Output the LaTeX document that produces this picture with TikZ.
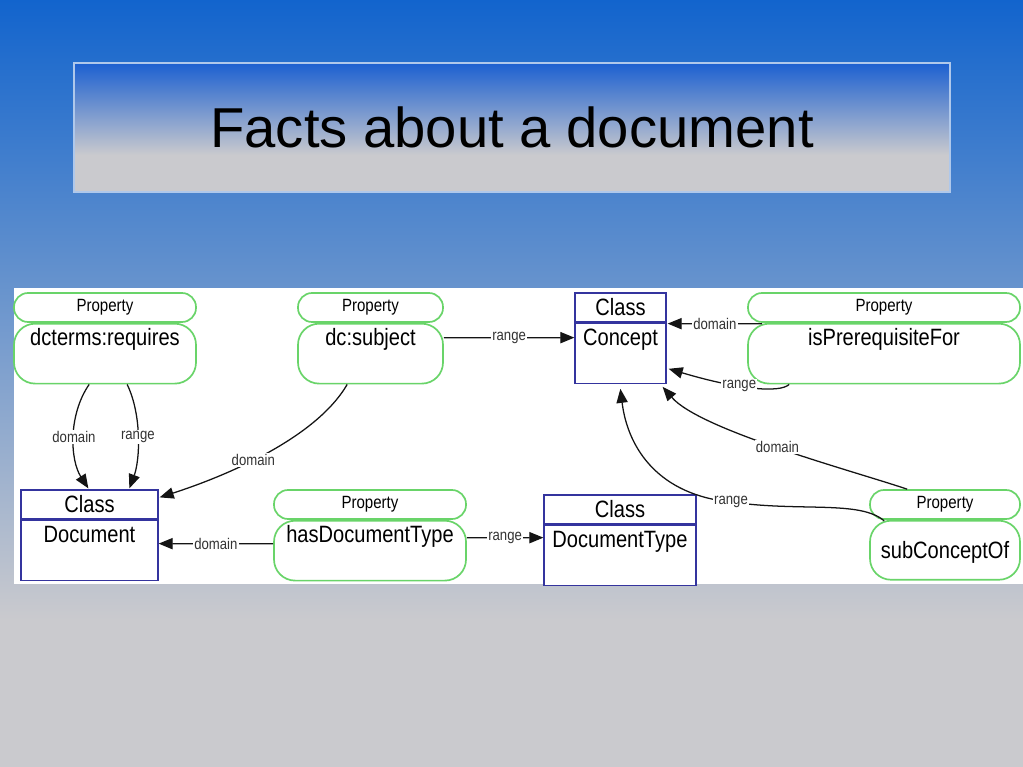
\documentclass[tikz,border=0pt]{standalone}
\usepackage{fontspec}
\setmainfont{Liberation Sans}
\newfontfamily\diafont[FakeStretch=0.85]{Liberation Sans}
\usetikzlibrary{arrows.meta,calc}
\definecolor{slidetop}{RGB}{18, 100, 205}
\definecolor{slidegray}{RGB}{202, 202, 206}
\definecolor{titletop}{RGB}{28, 96, 208}
\definecolor{titleedge}{RGB}{175, 200, 235}
\definecolor{pill}{RGB}{105, 212, 105}
\definecolor{cls}{RGB}{52, 52, 158}
\definecolor{edge}{RGB}{20, 20, 20}
\newcommand\pxu{0.025cm}

\begin{document}
\begin{tikzpicture}[x=0.025cm, y=-0.025cm,
    proptop/.style={draw=pill, line width=1.2pt, fill=white, rounded corners=10pt,
      minimum height=29*\pxu, inner sep=0pt, font=\diafont\fontsize{12.6}{14}\selectfont},
    propbody/.style={draw=pill, line width=1.2pt, fill=white, rounded corners=15pt,
      anchor=north, inner sep=0pt, text height=15.6pt, text depth=27pt,
      font=\diafont\fontsize{16.8}{19}\selectfont},
    classtop/.style={draw=cls, line width=0.9pt, fill=white, minimum height=29*\pxu,
      inner sep=0pt, font=\diafont\fontsize{16.8}{19}\selectfont},
    classbody/.style={draw=cls, line width=0.9pt, fill=white, anchor=north,
      inner sep=0pt, text height=15.6pt, text depth=27pt,
      font=\diafont\fontsize{16.8}{19}\selectfont},
    rel/.style={draw=edge, line width=0.9pt, -{Triangle[length=10pt,width=8pt]}},
    rellabel/.style={fill=white, inner sep=1pt, text=black!80,
      font=\diafont\fontsize{11}{12}\selectfont}]
  \useasboundingbox (0,0) rectangle (1023,767);
  % slide background and title
  \shade[top color=slidetop, bottom color=slidegray] (0,0) rectangle (1023,620);
  \fill[slidegray] (0,620) rectangle (1023,767);
  \shade[top color=titletop, bottom color=slidegray] (74,63) rectangle (950,155);
  \fill[slidegray] (74,155) rectangle (950,192);
  \draw[titleedge, line width=1pt] (74,63) rectangle (950,192);
  \node[anchor=base, font=\fontsize{40}{48}\selectfont] (title) at (512,148) {Facts about a document};
  % diagram panel
  \fill[white] (14,288) rectangle (1023,584);

  % properties
  \node[proptop, minimum width=182*\pxu] (reqhead) at (105,307.5) {Property};
  \node[propbody, minimum width=182*\pxu] (req) at (reqhead.south) {dcterms:requires};
  \node[proptop, minimum width=145*\pxu] (subjhead) at (370.5,307.5) {Property};
  \node[propbody, minimum width=145*\pxu] (subj) at (subjhead.south) {dc:subject};
  \node[proptop, minimum width=272*\pxu] (prereqhead) at (884,307.5) {Property};
  \node[propbody, minimum width=272*\pxu] (prereq) at (prereqhead.south) {isPrerequisiteFor};
  \node[proptop, minimum width=192*\pxu] (hasdthead) at (370,504.5) {Property};
  \node[propbody, minimum width=192*\pxu] (hasdt) at (hasdthead.south) {hasDocumentType};
  \node[proptop, minimum width=150*\pxu] (subchead) at (945,504.5) {Property};
  \node[propbody, minimum width=150*\pxu, text height=27pt, text depth=15pt] (subc) at (subchead.south) {subConceptOf};

  % classes
  \node[classtop, minimum width=91*\pxu] (conhead) at (620.5,307.5) {Class};
  \node[classbody, minimum width=91*\pxu] (con) at (conhead.south) {Concept};
  \node[classtop, minimum width=137*\pxu] (dochead) at (89.5,504.5) {Class};
  \node[classbody, minimum width=137*\pxu] (doc) at (dochead.south) {Document};
  \node[classtop, minimum width=152*\pxu] (dthead) at (620,509.5) {Class};
  \node[classbody, minimum width=152*\pxu] (dt) at (dthead.south) {DocumentType};

  % relations
  \draw[rel] ($(req.south west)+(76,0)$) .. controls (68,415) and (70,460) ..
    ($(dochead.north west)+(68,-1)$) node[rellabel, pos=0.5] {domain};
  \draw[rel] ($(req.south west)+(114,0)$) .. controls (142,415) and (140,460) ..
    ($(dochead.north west)+(109,-1)$) node[rellabel, pos=0.5] {range};
  \draw[rel] ($(subj.south west)+(50,0)$) .. controls (315,440) and (220,478) ..
    ($(dochead.north east)+(1,8)$) node[rellabel, pos=0.55] {domain};
  \draw[rel] ($(subj.north east)+(0,15)$) -- ($(con.north west)+(0,15)$) node[rellabel, midway] {range};
  \draw[rel] ($(prereqhead.south west)+(15,1)$) -- ($(conhead.south east)+(1,1)$) node[rellabel, midway] {domain};
  \draw[rel] ($(prereq.south west)+(42,0)$) .. controls (780,393) and (740,390) ..
    ($(con.south east)+(2,-15)$) node[rellabel, pos=0.6] {range};
  \draw[rel] ($(subchead.north west)+(38,0)$) .. controls (850,470) and (700,430) ..
    ($(con.south east)+(-4,3)$) node[rellabel, pos=0.5] {domain};
  \draw[rel] ($(subc.north west)+(15,1)$) .. controls (860,500) and (800,512) ..
    (731,502) node[rellabel] {range} .. controls (660,495) and (628,450) ..
    ($(con.south west)+(46,5)$);
  \draw[rel] ($(hasdt.north west)+(0,24)$) -- ($(doc.north east)+(0,24)$) node[rellabel, midway] {domain};
  \draw[rel] ($(hasdt.north east)+(0,18)$) -- ($(dt.north west)+(0,13)$) node[rellabel, midway] {range};
\end{tikzpicture}
\end{document}
